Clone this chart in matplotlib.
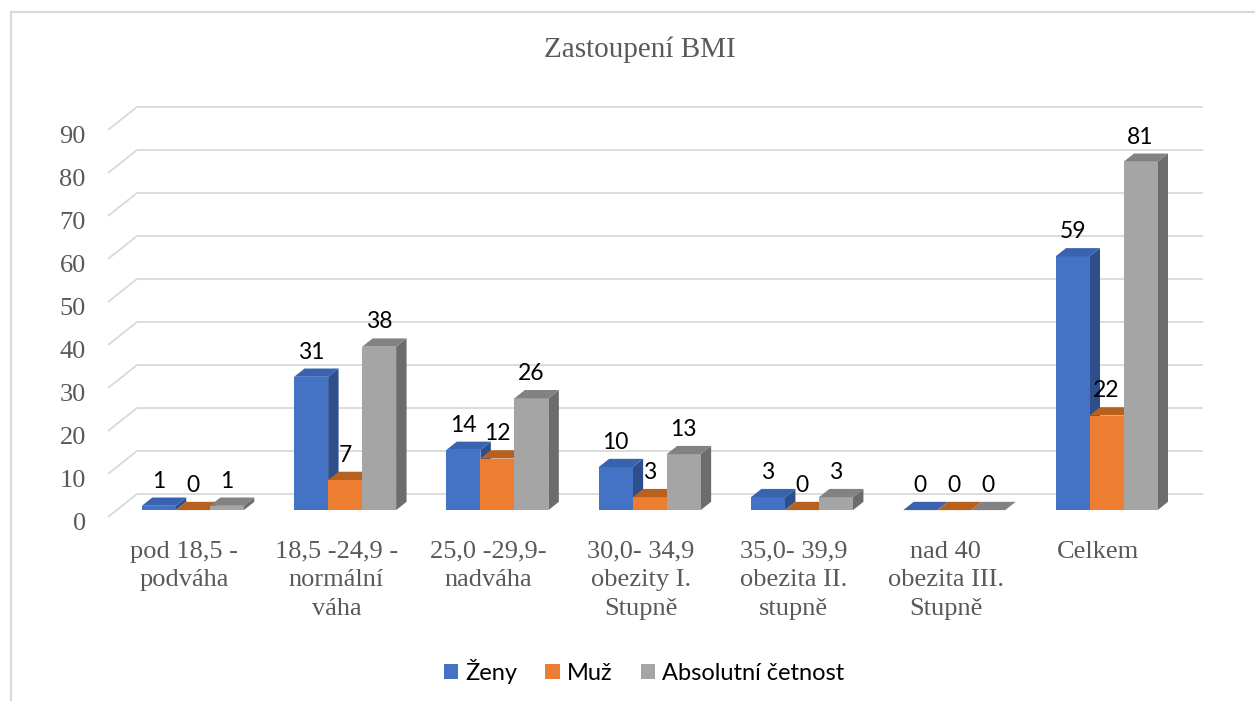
import matplotlib
matplotlib.use("Agg")
import matplotlib.pyplot as plt
import matplotlib.transforms as mtransforms
from matplotlib.patches import Polygon, Patch
from matplotlib.lines import Line2D

categories = ["pod 18,5 -\npodváha",
              "18,5 -24,9 -\nnormální\nváha",
              "25,0 -29,9-\nnadváha",
              "30,0- 34,9\nobezity I.\nStupně",
              "35,0- 39,9\nobezita II.\nstupně",
              "nad 40\nobezita III.\nStupně",
              "Celkem"]
series_names = ["Ženy", "Muž", "Absolutní četnost"]
zeny = [1, 31, 14, 10, 3, 0, 59]
muz = [0, 7, 12, 3, 0, 0, 22]
absolutni = [1, 38, 26, 13, 3, 0, 81]
y_ticks = [0, 10, 20, 30, 40, 50, 60, 70, 80, 90]

series = [zeny, muz, absolutni]
front_cols = ["#4472C4", "#ED7D31", "#A5A5A5"]
top_cols = ["#3A63AF", "#B8611F", "#828282"]
side_cols = ["#2E4F8C", "#A8561B", "#6C6C6C"]

W_PX, H_PX = 1255, 701
fig = plt.figure(figsize=(W_PX / 100, H_PX / 100), dpi=100)
fig.patch.set_facecolor("white")

# plot area (front plane)
left_px, right_px = 108, 1174
bottom_px, top_px = 517, 130
ax = fig.add_axes([left_px / W_PX, 1 - bottom_px / H_PX,
                   (right_px - left_px) / W_PX, (bottom_px - top_px) / H_PX])
ncat = len(categories)
ax.set_xlim(0, ncat)
ax.set_ylim(0, 90)
for s in ax.spines.values():
    s.set_visible(False)
ax.set_facecolor("none")

px_per_cat = (right_px - left_px) / ncat
px_per_val = (bottom_px - top_px) / 90.0
DX = 29 / px_per_cat      # full depth offset in category units
DY = 23 / px_per_val      # full depth offset in value units
d0, d1 = 0.30, 0.66       # bar depth range
BW = 34 / px_per_cat      # bar width

# gridlines (floor-side diagonal + back wall)
for v in y_ticks:
    ax.plot([0, DX, ncat + DX], [v, v + DY, v + DY], color="#d9d9d9",
            lw=1.3, clip_on=False, zorder=0, solid_capstyle="butt")

# 3D bars
for j, vals in enumerate(series):
    for i, v in enumerate(vals):
        xl = i + 0.5 - 1.5 * BW + j * BW
        xr = xl + BW
        fx0, fx1 = xl + d0 * DX, xr + d0 * DX
        bx0, bx1 = xl + d1 * DX, xr + d1 * DX
        fy0, by0 = d0 * DY, d1 * DY
        front = Polygon([(fx0, fy0), (fx1, fy0), (fx1, fy0 + v), (fx0, fy0 + v)],
                        closed=True, facecolor=front_cols[j], edgecolor="none",
                        clip_on=False, zorder=2 + j)
        side = Polygon([(fx1, fy0), (bx1, by0), (bx1, by0 + v), (fx1, fy0 + v)],
                       closed=True, facecolor=side_cols[j], edgecolor="none",
                       clip_on=False, zorder=2 + j)
        top = Polygon([(fx0, fy0 + v), (fx1, fy0 + v), (bx1, by0 + v), (bx0, by0 + v)],
                      closed=True, facecolor=top_cols[j], edgecolor="none",
                      clip_on=False, zorder=2 + j)
        ax.add_patch(side)
        ax.add_patch(front)
        ax.add_patch(top)
        ax.text((fx0 + fx1) / 2, by0 + v + 10 / px_per_val, str(v),
                ha="center", va="baseline", fontsize=16.5, family="Lato",
                color="black", zorder=10)

# axes ticks
ax.set_yticks(y_ticks)
ax.set_yticklabels([str(t) for t in y_ticks], family="Liberation Serif",
                   fontsize=19, color="#595959")
ax.set_xticks([i + 0.5 for i in range(ncat)])
ax.set_xticklabels(categories, family="Liberation Serif", fontsize=19,
                   color="#595959", linespacing=1.4, ha="center")
ax.tick_params(axis="y", length=0, pad=16)
ax.tick_params(axis="x", length=0, pad=17)
shift = mtransforms.ScaledTranslation(0, -3 / 72, fig.dpi_scale_trans)
for lbl in ax.get_yticklabels():
    lbl.set_transform(lbl.get_transform() + shift)

# title
fig.text(640 / W_PX, 1 - 50 / H_PX, "Zastoupení BMI", ha="center", va="center",
         family="Liberation Serif", fontsize=21, color="#595959")

# legend
handles = [Patch(facecolor=c, edgecolor="none") for c in front_cols]
fig.legend(handles, series_names, loc="center", ncol=3, frameon=False,
           bbox_to_anchor=(644 / W_PX, 1 - 671 / H_PX),
           prop={"family": "Lato", "size": 17},
           handlelength=0.6, handleheight=0.6, handletextpad=0.3,
           columnspacing=1.2)

# chart border (top and left visible)
fig.add_artist(Line2D([11 / W_PX, 11 / W_PX, 1.0], [0.0, 1 - 12 / H_PX, 1 - 12 / H_PX],
                      transform=fig.transFigure, color="#d9d9d9", lw=1.6))

fig.savefig("out.png", dpi=100, facecolor="white")
